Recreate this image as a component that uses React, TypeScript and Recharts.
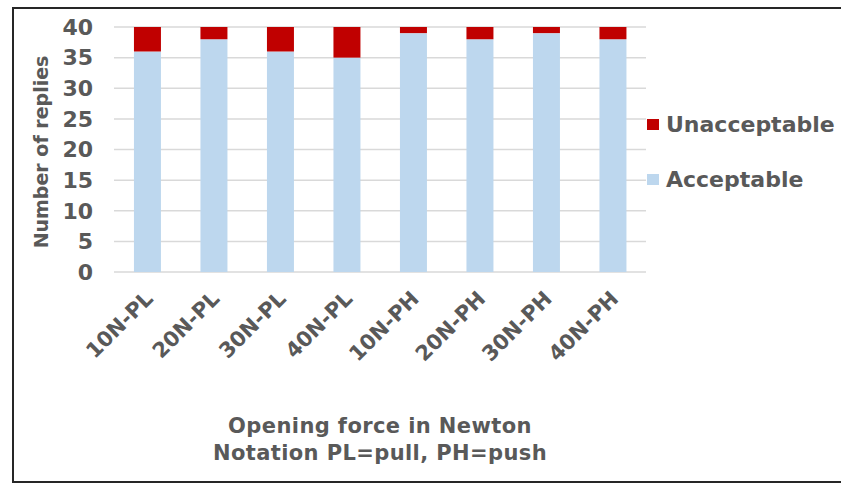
import React from 'react'
import { BarChart, Bar, XAxis, YAxis, CartesianGrid } from 'recharts'

const categories = ['10N-PL', '20N-PL', '30N-PL', '40N-PL', '10N-PH', '20N-PH', '30N-PH', '40N-PH']
const acceptable = [36, 38, 36, 35, 39, 38, 39, 38]
const unacceptable = [4, 2, 4, 5, 1, 2, 1, 2]
const yTicks = [0, 5, 10, 15, 20, 25, 30, 35, 40]

const data = categories.map((name, i) => ({
  name,
  acceptable: acceptable[i],
  unacceptable: unacceptable[i],
}))

const FONT = '"DejaVu Sans", "Liberation Sans", Arial, sans-serif'
const GRAY = '#595959'
const RED = '#c00000'
const BLUE = '#bdd7ee'

const XTick = (props: any) => {
  const { x, y, payload } = props
  const ax = x + 7
  const ay = y + 20
  return (
    <text
      x={ax}
      y={ay}
      transform={`rotate(-45 ${ax} ${ay})`}
      textAnchor="end"
      fill={GRAY}
      fontSize={21}
      fontWeight="bold"
      fontFamily={FONT}
    >
      {payload.value}
    </text>
  )
}

const legendItems = [
  { label: 'Unacceptable', color: RED },
  { label: 'Acceptable', color: BLUE },
]

export default function App() {
  return (
    <div style={{ position: 'absolute', left: 0, top: 0, width: 841, height: 487, background: '#fff', overflow: 'hidden' }}>
      <div
        style={{
          position: 'absolute', left: 12, top: 7, width: 840, height: 476,
          border: '2px solid #262626', boxSizing: 'border-box',
        }}
      />
      <BarChart
        width={841}
        height={487}
        data={data}
        margin={{ top: 27, right: 195, left: 54, bottom: 135 }}
        barCategoryGap="30%"
      >
        <CartesianGrid vertical={false} stroke="#d9d9d9" strokeWidth={1.5} />
        <XAxis dataKey="name" axisLine={false} tickLine={false} height={80} interval={0} tick={<XTick />} />
        <YAxis
          domain={[0, 40]}
          ticks={yTicks}
          interval={0}
          width={60}
          axisLine={false}
          tickLine={false}
          tickMargin={15}
          tick={{ fill: GRAY, fontSize: 22, fontWeight: 'bold', fontFamily: FONT }}
        />
        <Bar dataKey="acceptable" stackId="a" fill={BLUE} name="Acceptable" isAnimationActive={false} />
        <Bar dataKey="unacceptable" stackId="a" fill={RED} name="Unacceptable" isAnimationActive={false} />
      </BarChart>
      <div style={{ position: 'absolute', left: 647, top: 97, fontFamily: FONT }}>
        {legendItems.map((it) => (
          <div key={it.label} style={{ display: 'flex', alignItems: 'center', height: 55 }}>
            <span style={{ width: 12, height: 11, background: it.color, display: 'inline-block', marginRight: 7 }} />
            <span style={{ color: GRAY, fontSize: 22, fontWeight: 'bold' }}>{it.label}</span>
          </div>
        ))}
      </div>
      <div
        style={{
          position: 'absolute', left: 41, top: 152, transform: 'translate(-50%, -50%) rotate(-90deg)',
          whiteSpace: 'nowrap', fontFamily: FONT, fontWeight: 'bold', fontSize: 19, color: GRAY,
        }}
      >
        Number of replies
      </div>
      <div
        style={{
          position: 'absolute', left: 380, top: 440, transform: 'translate(-50%, -50%)',
          whiteSpace: 'nowrap', textAlign: 'center', fontFamily: FONT, fontWeight: 'bold',
          fontSize: 21, lineHeight: '27px', color: GRAY, letterSpacing: 0.4,
        }}
      >
        Opening force in Newton
        <br />
        Notation PL=pull, PH=push
      </div>
    </div>
  )
}
